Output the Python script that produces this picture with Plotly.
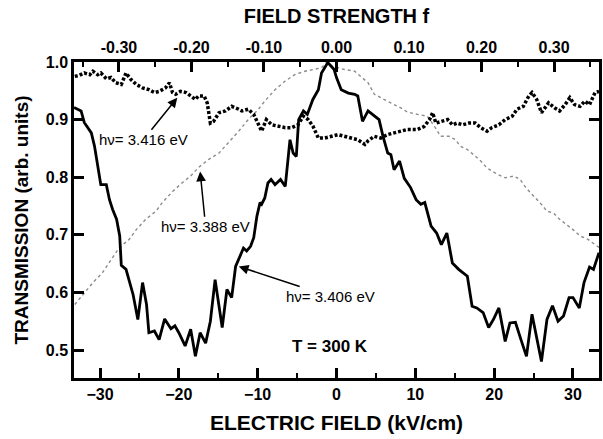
import plotly.graph_objects as go

# Electric field (kV/cm) and transmission for the three photon energies
e_3406 = [-33.3, -32.4, -32.0, -31.1, -30.7, -30.2, -29.9, -29.2, -28.8, -28.4, -27.9, -27.5,
          -27.3, -26.7, -26.3, -25.8, -25.2, -24.6, -24.1, -23.8, -23.1, -22.5, -21.8, -21.0,
          -20.5, -20.0, -19.2, -18.5, -17.9, -17.3, -16.6, -16.0, -15.4, -14.5, -13.9, -13.3,
          -12.8, -12.2, -11.8, -11.4, -10.9, -10.5, -10.1, -9.7, -9.5, -9.1, -8.7, -8.3,
          -7.8, -7.1, -6.5, -5.9, -5.5, -5.1, -4.8, -4.2, -3.7, -3.0, -2.3, -1.9,
          -1.4, -1.1, -0.7, -0.3, 0.0, 0.6, 1.5, 2.3, 2.7, 3.3, 4.0, 4.8,
          5.4, 5.9, 6.5, 6.9, 7.3, 8.0, 8.6, 9.4, 10.1, 10.7, 11.2, 12.0,
          12.7, 13.3, 14.0, 14.7, 15.5, 16.6, 17.2, 17.8, 18.6, 19.3, 19.9, 20.6,
          21.4, 22.0, 22.7, 23.4, 24.1, 24.8, 25.4, 26.0, 26.7, 27.4, 28.1, 28.8,
          29.5, 30.0, 30.8, 31.4, 32.1, 32.6, 33.3]
t_3406 = [0.921, 0.915, 0.895, 0.877, 0.854, 0.808, 0.787, 0.787, 0.761, 0.744, 0.727, 0.698,
          0.647, 0.640, 0.622, 0.596, 0.553, 0.617, 0.579, 0.530, 0.533, 0.518, 0.554, 0.537,
          0.542, 0.530, 0.507, 0.536, 0.489, 0.530, 0.512, 0.550, 0.622, 0.539, 0.605, 0.591,
          0.645, 0.666, 0.677, 0.672, 0.680, 0.695, 0.732, 0.756, 0.753, 0.764, 0.790, 0.796,
          0.787, 0.796, 0.784, 0.865, 0.842, 0.836, 0.900, 0.915, 0.909, 0.935, 0.952, 0.981,
          0.993, 0.999, 0.993, 0.987, 0.973, 0.952, 0.946, 0.944, 0.941, 0.897, 0.915, 0.906,
          0.900, 0.871, 0.842, 0.839, 0.813, 0.828, 0.798, 0.782, 0.761, 0.753, 0.756, 0.715,
          0.703, 0.683, 0.703, 0.651, 0.640, 0.628, 0.576, 0.573, 0.565, 0.539, 0.553, 0.573,
          0.515, 0.547, 0.548, 0.518, 0.489, 0.562, 0.524, 0.480, 0.553, 0.577, 0.550, 0.559,
          0.591, 0.591, 0.573, 0.617, 0.644, 0.640, 0.669]

e_3416 = [-33.2, -32.6, -32.0, -31.3, -30.9, -30.3, -29.9, -29.2, -28.6, -28.0, -27.3, -26.7,
          -26.1, -25.4, -24.6, -23.8, -23.1, -22.5, -21.7, -21.2, -20.8, -20.4, -19.8, -19.1,
          -18.5, -17.9, -17.5, -16.8, -16.4, -16.0, -15.6, -14.9, -14.1, -13.3, -12.4, -12.0,
          -11.2, -10.5, -9.5, -8.9, -8.2, -7.4, -6.5, -5.7, -4.9, -4.2, -3.6, -3.0,
          -2.3, -1.5, -0.7, 0.2, 1.0, 1.9, 2.7, 3.6, 4.0, 4.8, 5.6, 6.5,
          7.3, 8.2, 9.0, 10.3, 11.1, 11.8, 12.2, 12.6, 13.2, 14.1, 14.7, 15.3,
          16.0, 16.8, 17.6, 18.3, 19.1, 19.7, 20.6, 21.4, 22.3, 22.9, 23.7, 24.4,
          24.8, 25.4, 26.0, 26.9, 27.7, 28.3, 29.0, 29.6, 30.2, 30.9, 31.5, 32.1,
          32.8, 33.3]
t_3416 = [0.975, 0.977, 0.981, 0.978, 0.984, 0.978, 0.981, 0.971, 0.973, 0.964, 0.961, 0.981,
          0.970, 0.961, 0.955, 0.952, 0.947, 0.949, 0.955, 0.964, 0.947, 0.944, 0.949, 0.947,
          0.941, 0.935, 0.941, 0.941, 0.929, 0.894, 0.897, 0.912, 0.915, 0.923, 0.918, 0.915,
          0.918, 0.909, 0.880, 0.900, 0.891, 0.889, 0.886, 0.886, 0.891, 0.906, 0.900, 0.889,
          0.868, 0.868, 0.871, 0.874, 0.871, 0.868, 0.865, 0.857, 0.863, 0.871, 0.868, 0.874,
          0.877, 0.880, 0.883, 0.883, 0.888, 0.900, 0.912, 0.894, 0.897, 0.900, 0.891, 0.894,
          0.891, 0.894, 0.894, 0.886, 0.880, 0.886, 0.891, 0.900, 0.906, 0.918, 0.923, 0.941,
          0.947, 0.935, 0.912, 0.929, 0.920, 0.915, 0.926, 0.938, 0.926, 0.923, 0.932, 0.926,
          0.947, 0.949]

e_3388 = [-33.2, -32.2, -30.9, -29.7, -28.6, -27.6, -26.3, -25.4, -24.2, -22.9, -22.1, -20.8,
          -19.6, -18.5, -17.5, -16.2, -14.9, -13.7, -12.4, -11.2, -9.9, -9.1, -7.8, -6.5,
          -5.3, -4.0, -2.7, -1.9, -1.3, -0.7, 0.2, 1.0, 2.3, 3.1, 4.0, 4.8,
          5.6, 6.5, 7.3, 8.2, 9.0, 10.3, 11.5, 12.4, 13.2, 14.3, 15.1, 15.7,
          16.6, 17.4, 18.3, 19.1, 20.4, 21.4, 22.5, 23.3, 23.9, 24.6, 25.8, 26.7,
          27.5, 28.3, 29.2, 30.0, 30.9, 31.9, 32.8, 33.3]
t_3388 = [0.579, 0.596, 0.617, 0.634, 0.657, 0.677, 0.692, 0.709, 0.727, 0.741, 0.756, 0.775,
          0.790, 0.802, 0.817, 0.831, 0.842, 0.860, 0.880, 0.900, 0.918, 0.932, 0.952, 0.967,
          0.978, 0.984, 0.987, 0.990, 0.999, 0.993, 0.990, 0.987, 0.984, 0.975, 0.964, 0.944,
          0.938, 0.932, 0.926, 0.920, 0.913, 0.909, 0.906, 0.889, 0.871, 0.871, 0.865, 0.854,
          0.848, 0.839, 0.828, 0.816, 0.805, 0.799, 0.802, 0.796, 0.784, 0.773, 0.756, 0.741,
          0.738, 0.727, 0.718, 0.709, 0.698, 0.692, 0.683, 0.678]

x_ticks = [-30, -20, -10, 0, 10, 20, 30]
f_ticks = [-0.30, -0.20, -0.10, 0.00, 0.10, 0.20, 0.30]
y_ticks = [0.5, 0.6, 0.7, 0.8, 0.9, 1.0]

# photon-energy labels: text, label centre, arrow tip on the curve
energy_labels = ["3.416", "3.388", "3.406"]
label_pos = [(-24.5, 0.865), (-16.6, 0.714), (-0.8, 0.593)]
arrow_tips = [(-20.2, 0.938), (-17.3, 0.810), (-12.4, 0.645)]

FONT = "Liberation Sans"
x_range = [-33.3, 33.3]
f_range = [-0.362, 0.362]
y_range = [0.4514, 1.0]

fig = go.Figure()
fig.add_trace(go.Scatter(x=e_3388, y=t_3388, mode="lines",
                         line=dict(color="#8c8c8c", width=1.4, dash="dot")))
fig.add_trace(go.Scatter(x=e_3416, y=t_3416, mode="lines",
                         line=dict(color="black", width=3.5, dash="3px,2px")))
fig.add_trace(go.Scatter(x=e_3406, y=t_3406, mode="lines",
                         line=dict(color="black", width=2.8)))
# invisible trace to activate the top field-strength axis
fig.add_trace(go.Scatter(x=f_range, y=[None, None], xaxis="x2", mode="lines",
                         showlegend=False, hoverinfo="skip"))

tickfont = dict(family=FONT, size=16, color="black", weight="bold")


def title_font(size):
    return dict(family=FONT, size=size, color="black", weight="bold")


fig.update_layout(
    width=603, height=439,
    margin=dict(l=74, r=1, t=62, b=61),
    paper_bgcolor="white", plot_bgcolor="white",
    showlegend=False,
    xaxis=dict(range=x_range, tickvals=x_ticks, ticks="inside", ticklen=10, tickwidth=2.5,
               tickcolor="black", showline=True, linewidth=2.5, linecolor="black",
               showgrid=False, zeroline=False, tickfont=tickfont,
               minor=dict(dtick=5, tick0=0, ticks="inside", ticklen=5, tickwidth=2,
                          tickcolor="black"),
               title=dict(text="ELECTRIC FIELD (kV/cm)", font=title_font(21), standoff=14)),
    xaxis2=dict(range=f_range, overlaying="x", side="top", anchor="y",
                tickvals=f_ticks, ticktext=["%.2f" % v for v in f_ticks],
                ticks="inside", ticklen=10, tickwidth=2.5, tickcolor="black",
                showline=True, linewidth=2.5, linecolor="black",
                showgrid=False, zeroline=False, tickfont=tickfont,
                minor=dict(dtick=0.05, tick0=0, ticks="inside", ticklen=5, tickwidth=2,
                           tickcolor="black"),
                title=dict(text="FIELD STRENGTH f", font=title_font(20), standoff=10)),
    yaxis=dict(range=y_range, tickvals=y_ticks, ticktext=["%.1f" % v for v in y_ticks],
               ticks="inside", ticklen=10, tickwidth=2.5, tickcolor="black",
               showline=True, linewidth=2.5, linecolor="black", mirror="ticks",
               showgrid=False, zeroline=False, tickfont=tickfont,
               title=dict(text="TRANSMISSION (arb. units)", font=title_font(19), standoff=13)),
)

labelfont = dict(family=FONT, size=15, color="black")

# each label carries its own arrow, drawn from the text box to the curve
for name, (lx, ly), (tx, ty) in zip(energy_labels, label_pos, arrow_tips):
    fig.add_annotation(x=tx, y=ty, ax=lx, ay=ly, axref="x", ayref="y", xref="x", yref="y",
                       text="hν= %s eV" % name, font=labelfont,
                       showarrow=True, arrowhead=2, arrowsize=1.3, arrowwidth=1.5,
                       arrowcolor="black", borderpad=1)

fig.add_annotation(x=-0.8, y=0.506, text="T = 300 K", showarrow=False,
                   font=dict(family=FONT, size=17, color="black", weight="bold"))

fig.write_html("out.html")
